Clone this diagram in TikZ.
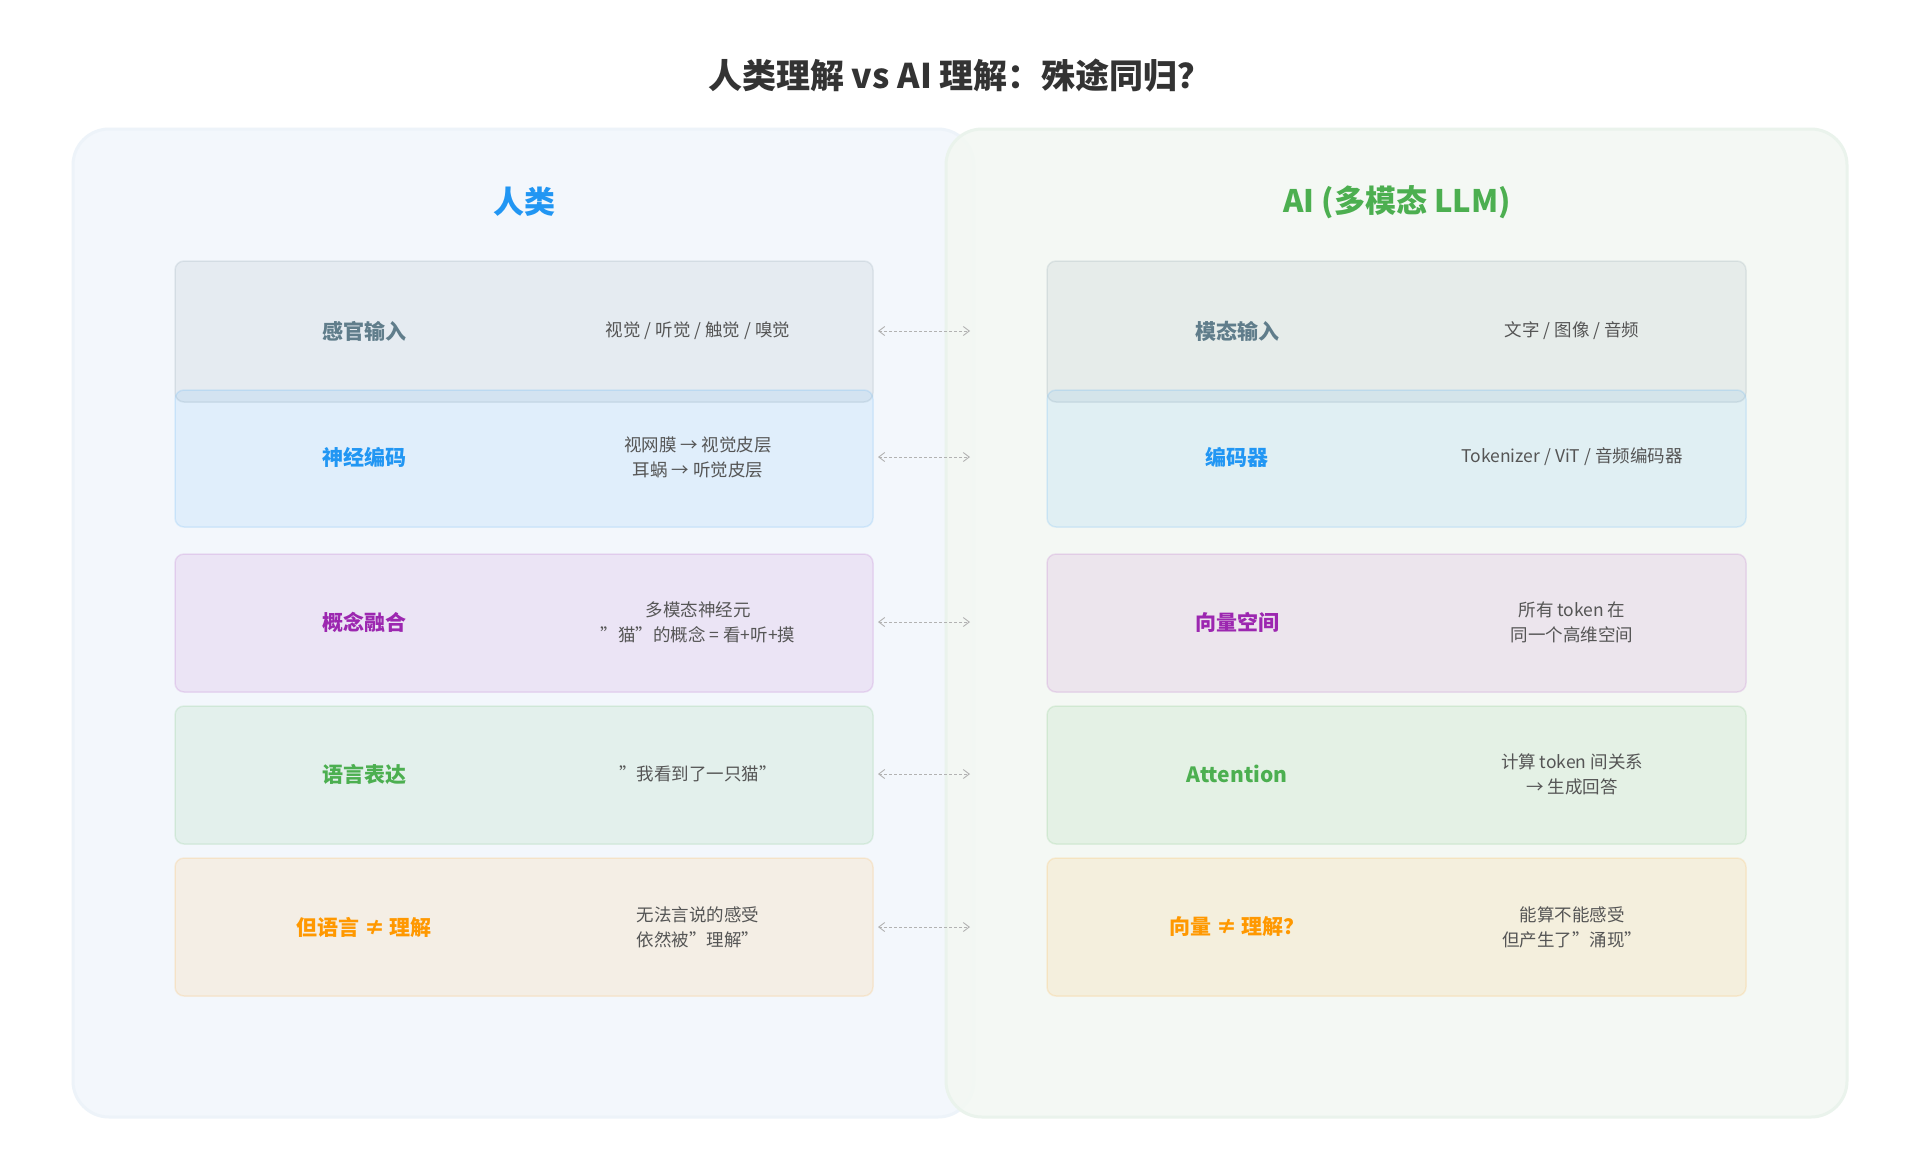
\documentclass[tikz,border=0pt]{standalone}
\usepackage{fontspec}
\setmainfont{Noto Sans CJK SC}
\usetikzlibrary{arrows.meta}
\definecolor{cgrey}{HTML}{607D8B}
\definecolor{cblue}{HTML}{2196F3}
\definecolor{cpurple}{HTML}{9C27B0}
\definecolor{cgreen}{HTML}{4CAF50}
\definecolor{corange}{HTML}{FF9800}
\definecolor{ctext}{HTML}{555555}
\definecolor{ctitle}{HTML}{333333}
\definecolor{plf}{HTML}{F3F7FC}
\definecolor{pld}{HTML}{EDF3F9}
\definecolor{prf}{HTML}{F3F8F3}
\definecolor{prd}{HTML}{EAF3EC}
\begin{document}
\begin{tikzpicture}[x=1pt,y=-1pt,
  panel/.style={rounded corners=36pt,line width=3pt},
  row/.style={rounded corners=9pt,line width=1.5pt,fill=#1,draw=#1,fill opacity=0.09,draw opacity=0.13},
  lab/.style={font=\fontsize{21}{25}\selectfont\bfseries,text=#1},
  desc/.style={font=\fontsize{17.5}{25}\selectfont,text=ctext,align=center},
  link/.style={densely dashed,draw=gray!60,line width=0.9pt,{Straight Barb[length=6pt,width=9pt]}-{Straight Barb[length=6pt,width=9pt]}}]
\useasboundingbox (0,0) rectangle (1921,1171);
\fill[white] (0,0) rectangle (1921,1171);
\node[font=\fontsize{34}{40}\selectfont\bfseries,text=ctitle] (title) at (960,76) {人类理解 vs AI 理解：殊途同归？};
\draw[panel,fill=plf,draw=pld] (73,129) rectangle (974,1117);
\draw[panel,fill=prf,draw=prd,fill opacity=0.9] (946,129) rectangle (1847,1117);
\node[font=\fontsize{31}{36}\selectfont\bfseries,text=cblue] (hh) at (524,202) {人类};
\node[font=\fontsize{31}{36}\selectfont\bfseries,text=cgreen] (ha) at (1397,202) {AI (多模态 LLM)};
\foreach \y/\yy/\c/\n in {261/402/cgrey/a,390/527/cblue/b,554/692/cpurple/c,706/844/cgreen/d,858/996/corange/e}{
  \draw[row=\c] (175,\y) rectangle (873,\yy);
  \draw[row=\c] (1047,\y) rectangle (1746,\yy);
}
\coordinate (La) at (878,331); \coordinate (Ra) at (970,331);
\coordinate (Lb) at (878,457); \coordinate (Rb) at (970,457);
\coordinate (Lc) at (878,622); \coordinate (Rc) at (970,622);
\coordinate (Ld) at (878,774); \coordinate (Rd) at (970,774);
\coordinate (Le) at (878,927); \coordinate (Re) at (970,927);
\node[lab=cgrey] (l1) at (364,331) {感官输入};
\node[desc] (d1) at (698,331) {视觉 / 听觉 / 触觉 / 嗅觉};
\node[lab=cblue] (l2) at (364,457) {神经编码};
\node[desc] (d2) at (698,457) {视网膜 → 视觉皮层\\耳蜗 → 听觉皮层};
\node[lab=cpurple] (l3) at (364,622) {概念融合};
\node[desc] (d3) at (698,622) {多模态神经元\\"猫"的概念 = 看+听+摸};
\node[lab=cgreen] (l4) at (364,774) {语言表达};
\node[desc] (d4) at (698,774) {"我看到了一只猫"};
\node[lab=corange] (l5) at (364,927) {但语言 ≠ 理解};
\node[desc] (d5) at (698,927) {无法言说的感受\\依然被"理解"};
\node[lab=cgrey] (r1) at (1237,331) {模态输入};
\node[desc] (e1) at (1572,331) {文字 / 图像 / 音频};
\node[lab=cblue] (r2) at (1237,457) {编码器};
\node[desc] (e2) at (1572,457) {Tokenizer / ViT / 音频编码器};
\node[lab=cpurple] (r3) at (1237,622) {向量空间};
\node[desc] (e3) at (1572,622) {所有 token 在\\同一个高维空间};
\node[lab=cgreen] (r4) at (1237,774) {Attention};
\node[desc] (e4) at (1572,774) {计算 token 间关系\\→ 生成回答};
\node[lab=corange] (r5) at (1237,927) {向量 ≠ 理解？};
\node[desc] (e5) at (1572,927) {能算不能感受\\但产生了"涌现"};
\foreach \n in {a,b,c,d,e}{\draw[link] (L\n) -- (R\n);}
\end{tikzpicture}
\end{document}
